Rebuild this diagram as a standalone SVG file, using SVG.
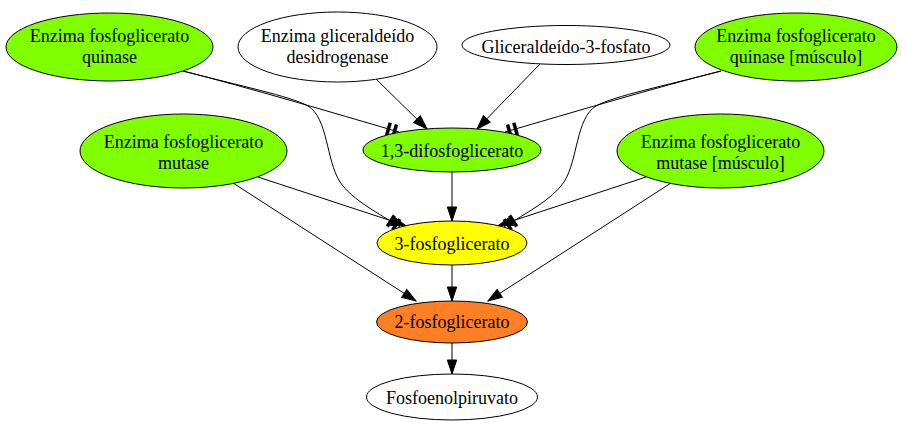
<svg xmlns="http://www.w3.org/2000/svg" width="906" height="426" viewBox="0 0 906 426">
<style>
  .node ellipse { stroke: #000; stroke-width: 1; }
  .green { fill: #7fff00; }
  .white { fill: #ffffff; }
  .yellow { fill: #ffff00; }
  .orange { fill: #ff7f24; }
  text { font-family: "Liberation Serif", "Times New Roman", serif; font-size: 18px; fill: #000; text-anchor: middle; }
  .edge { fill: none; stroke: #000; stroke-width: 1; }
  .arrow { marker-end: url(#arrow); }
  .tee { marker-end: url(#teetee); }
</style>
<defs>
  <marker id="arrow" markerUnits="userSpaceOnUse" markerWidth="20" markerHeight="20" refX="0" refY="0" orient="auto" overflow="visible">
    <path d="M-14,-4.7 L0,0 L-14,4.7 Z" fill="#000" stroke="#000" stroke-width="1"/>
  </marker>
  <marker id="teetee" markerUnits="userSpaceOnUse" markerWidth="20" markerHeight="20" refX="0" refY="0" orient="auto" overflow="visible">
    <rect x="-12.75" y="-6.5" width="3.5" height="13" fill="#000"/>
    <rect x="-6.25" y="-6.5" width="3.5" height="13" fill="#000"/>
  </marker>
</defs>

<g id="connectors">
  <path class="edge tee" d="M183,71 C250,88 330,112 399,132"/>
  <path class="edge tee" d="M183,71 C240,86 290,96 308,106 C328,118 326,160 340,182 C352,200 380,214 400,227"/>
  <path class="edge tee" d="M721,71 C654,88 574,112 505,132"/>
  <path class="edge tee" d="M721,71 C664,86 614,96 596,106 C576,118 578,160 564,182 C552,200 524,214 504,227"/>
  <path class="edge arrow" d="M376,79 L427,129"/>
  <path class="edge arrow" d="M540,64 L477,129"/>
  <path class="edge arrow" d="M452,172 L452,221"/>
  <path class="edge arrow" d="M258,177 L405.5,225.5"/>
  <path class="edge arrow" d="M646,177 L498.5,225.5"/>
  <path class="edge arrow" d="M233,183 L416,301"/>
  <path class="edge arrow" d="M671,183 L488,301"/>
  <path class="edge arrow" d="M452,265 L452,301"/>
  <path class="edge arrow" d="M452,343 L452,374"/>
</g>

<g id="n1" class="node">
  <ellipse class="green" cx="109.5" cy="47" rx="103.5" ry="34"/>
  <text x="109.5" y="41.5">Enzima fosfoglicerato</text>
  <text x="109.5" y="62.5">quinase</text>
</g>
<g id="n2" class="node">
  <ellipse class="white" cx="337.5" cy="47" rx="99.5" ry="35"/>
  <text x="337.5" y="41.5">Enzima gliceraldeído</text>
  <text x="337.5" y="62.5">desidrogenase</text>
</g>
<g id="n3" class="node">
  <ellipse class="white" cx="566" cy="45" rx="104" ry="19.5"/>
  <text x="566" y="52.5">Gliceraldeído-3-fosfato</text>
</g>
<g id="n4" class="node">
  <ellipse class="green" cx="796" cy="47" rx="101" ry="34"/>
  <text x="796" y="41.5">Enzima fosfoglicerato</text>
  <text x="796" y="62.5">quinase [músculo]</text>
</g>
<g id="n5" class="node">
  <ellipse class="green" cx="452" cy="150" rx="89" ry="22"/>
  <text x="452" y="157">1,3-difosfoglicerato</text>
</g>
<g id="n6" class="node">
  <ellipse class="green" cx="183.5" cy="151" rx="103.5" ry="37"/>
  <text x="183.5" y="148">Enzima fosfoglicerato</text>
  <text x="183.5" y="169">mutase</text>
</g>
<g id="n7" class="node">
  <ellipse class="green" cx="720.5" cy="151" rx="103.5" ry="37"/>
  <text x="720.5" y="148">Enzima fosfoglicerato</text>
  <text x="720.5" y="169">mutase [músculo]</text>
</g>
<g id="n8" class="node">
  <ellipse class="yellow" cx="452" cy="243" rx="75" ry="22"/>
  <text x="452" y="250">3-fosfoglicerato</text>
</g>
<g id="n9" class="node">
  <ellipse class="orange" cx="452" cy="322" rx="75.5" ry="21"/>
  <text x="452" y="328">2-fosfoglicerato</text>
</g>
<g id="n10" class="node">
  <ellipse class="white" cx="452" cy="397" rx="85.5" ry="23"/>
  <text x="452" y="404">Fosfoenolpiruvato</text>
</g>
</svg>
